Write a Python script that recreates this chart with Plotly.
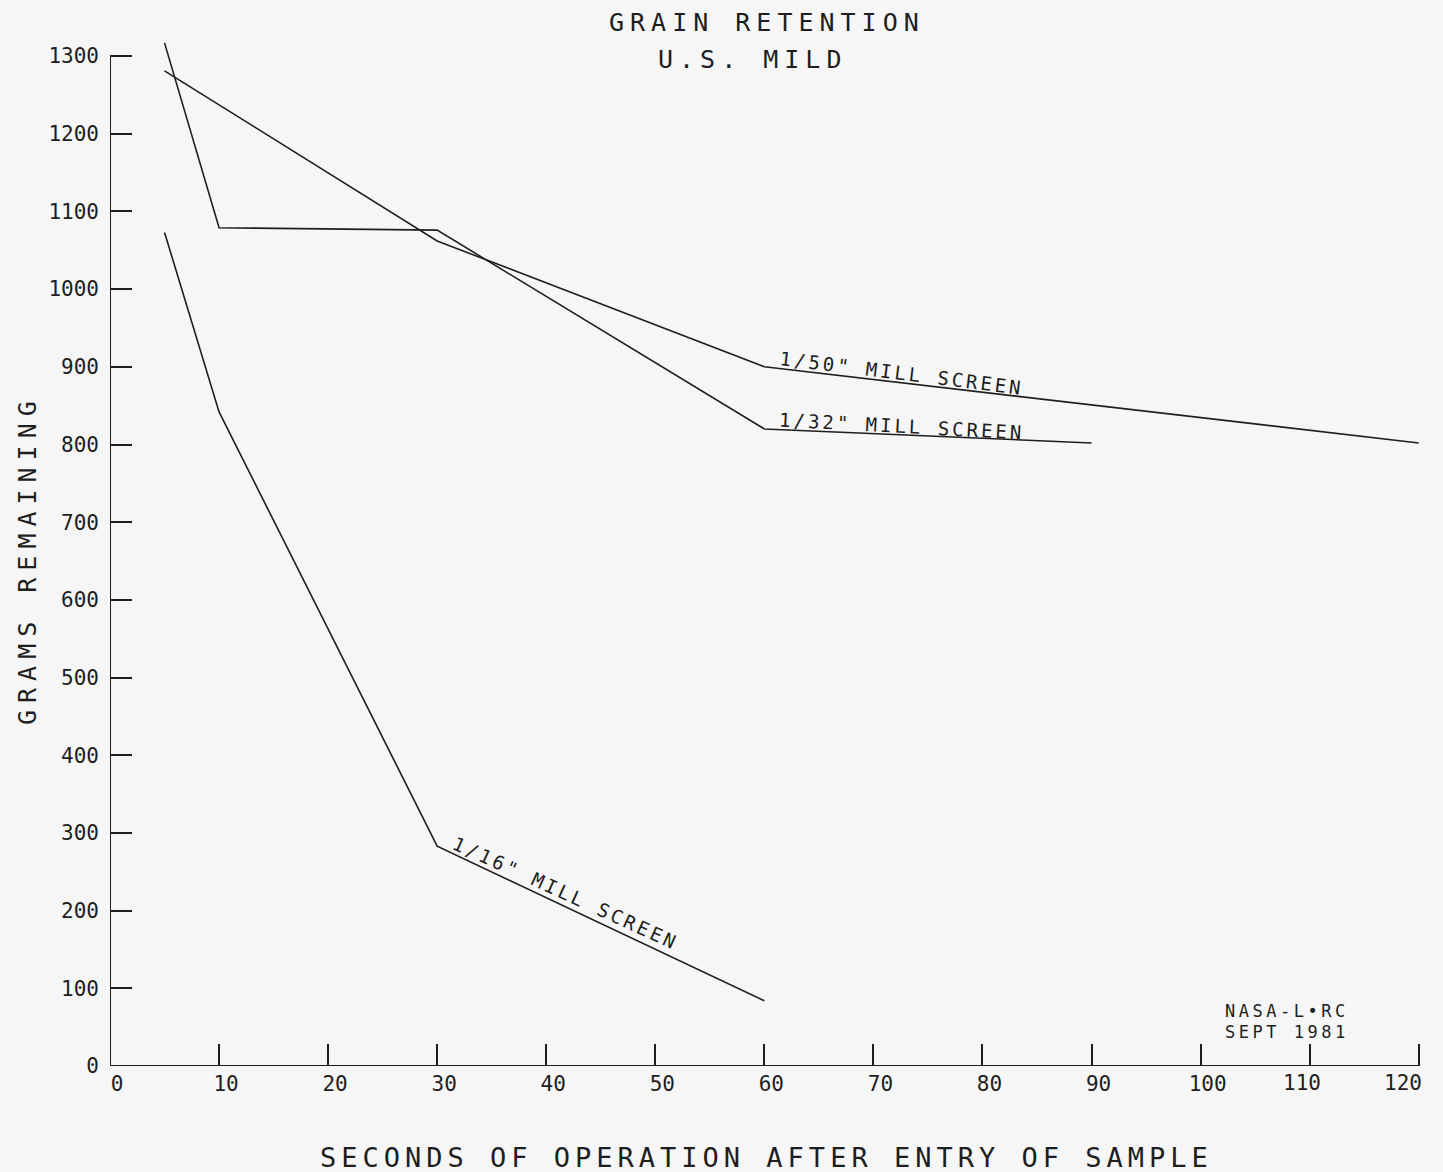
import plotly.graph_objects as go

# ---- data ----
time_1_16 = [5, 10, 30, 60]
grams_1_16 = [1073, 842, 283, 84]

time_1_32 = [5, 10, 30, 60, 90]
grams_1_32 = [1317, 1079, 1076, 820, 802]

time_1_50 = [5, 30, 60, 120]
grams_1_50 = [1281, 1062, 900, 802]

x_ticks = list(range(0, 121, 10))
x_tick_text = [str(v) for v in x_ticks]
y_ticks = list(range(0, 1301, 100))

series_names = ['1/16" MILL SCREEN', '1/32" MILL SCREEN', '1/50" MILL SCREEN']

# ---- layout constants ----
W, H = 1443, 1172
X_MAX = 120.3
L, R, T, B = 110, 1422, 25, 1066
FONT = "DejaVu Sans Mono"
INK = "#1e1e1e"
BG = "#f6f6f6"


def pxx(xp):
    return (xp - L) / (R - L)


def pyy(yp):
    return (B - yp) / (B - T)


def spaced(text, sp):
    return f'<span style="letter-spacing:{sp}px">{text}</span>'


# the plotter pulled its last two x labels leftwards: draw those two as
# annotations anchored on their tick values, the rest as normal tick labels
x_tick_display = x_tick_text[:-2] + ["", ""]

fig = go.Figure()
for t, g, name in [(time_1_16, grams_1_16, series_names[0]),
                   (time_1_32, grams_1_32, series_names[1]),
                   (time_1_50, grams_1_50, series_names[2])]:
    fig.add_trace(go.Scatter(x=t, y=g, mode="lines", name=name,
                             line=dict(color=INK, width=1.6),
                             showlegend=False, hoverinfo="skip"))

annotations = []


def add_text(text, xp, yp, size, sp, angle=0, xanchor="center"):
    annotations.append(dict(
        text=spaced(text, sp), x=pxx(xp), y=pyy(yp), xref="paper", yref="paper",
        xanchor=xanchor, yanchor="middle", showarrow=False, textangle=angle,
        font=dict(family=FONT, size=size, color=INK)))


# titles
add_text("GRAIN RETENTION", 767, 23, 25, 6)
add_text("U.S. MILD", 752, 59, 25, 6)
add_text("SECONDS OF OPERATION AFTER ENTRY OF SAMPLE", 766, 1157, 27, 5)
add_text("GRAMS REMAINING", 27, 560, 25, 7, angle=-90)
# credit
add_text("NASA-L•RC", 1223, 1011, 17, 3.5, xanchor="left")
add_text("SEPT 1981", 1223, 1032, 17, 3.5, xanchor="left")

# last two x tick labels
for val, txt, shift in [(x_ticks[-2], x_tick_text[-2], -8),
                        (x_ticks[-1], x_tick_text[-1], -16)]:
    annotations.append(dict(
        text=txt, x=val, y=0, xref="x", yref="paper", xanchor="center",
        yanchor="middle", xshift=shift, yshift=-17, showarrow=False,
        font=dict(family=FONT, size=21, color=INK)))

# series labels along the lines (data coordinates)
for name, xv, yv, ang in [(series_names[2], 72.6, 892, 7),
                          (series_names[1], 72.6, 824, 3),
                          (series_names[0], 41.8, 223, 24.5)]:
    annotations.append(dict(
        text=spaced(name, 3), x=xv, y=yv, xref="x", yref="y",
        xanchor="center", yanchor="middle", showarrow=False, textangle=ang,
        font=dict(family=FONT, size=19, color=INK)))

fig.update_layout(
    width=W, height=H,
    margin=dict(l=L, r=W - R, t=T, b=H - B, pad=0, autoexpand=False),
    paper_bgcolor=BG, plot_bgcolor=BG,
    font=dict(family=FONT, color=INK),
    annotations=annotations,
    shapes=[dict(type="line", xref="x", yref="y", x0=0, x1=0, y0=0, y1=1300,
                 line=dict(color=INK, width=2)),
            dict(type="line", xref="x", yref="y", x0=0, x1=120, y0=0, y1=0,
                 line=dict(color=INK, width=2))],
)

fig.update_xaxes(range=[0, X_MAX], tickvals=x_ticks, ticktext=x_tick_display,
                 ticks="inside", ticklen=22,
                 tickwidth=2, tickcolor=INK, showline=False,
                 showgrid=False, zeroline=False, automargin=False,
                 tickfont=dict(family=FONT, size=21, color=INK),
                 ticklabelstandoff=3, ticklabelshift=7)
fig.update_yaxes(range=[0, 1340], tickvals=y_ticks, ticks="inside", ticklen=22,
                 tickwidth=2, tickcolor=INK, showline=False, showgrid=False,
                 zeroline=False, automargin=False,
                 tickfont=dict(family=FONT, size=21, color=INK),
                 ticklabelstandoff=10)

fig.write_html("out.html", config={"displayModeBar": False},
               post_script="document.body.style.margin='0';")
